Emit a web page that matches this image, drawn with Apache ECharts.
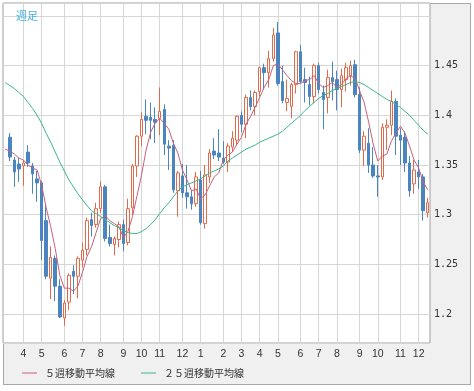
<!DOCTYPE html>
<html><head><meta charset="utf-8">
<script src="https://cdn.jsdelivr.net/npm/echarts@6/dist/echarts.min.js"></script>
<style>
html,body{margin:0;padding:0;background:#fff;}
#frame{position:absolute;left:3px;top:3px;width:466px;height:380px;border:1px solid #a8a8a8;background:#f0f0f0;}
#chart{position:absolute;left:0;top:0;width:474px;height:391px;}
</style></head><body>
<div id="frame"></div><div id="chart"></div>
<script>
const weeks = [
'2010/03/08','2010/03/15','2010/03/22','2010/03/29','2010/04/05','2010/04/12','2010/04/19','2010/04/26',
'2010/05/03','2010/05/10','2010/05/17','2010/05/24','2010/05/31','2010/06/07','2010/06/14','2010/06/21','2010/06/28',
'2010/07/05','2010/07/12','2010/07/19','2010/07/26','2010/08/02','2010/08/09','2010/08/16','2010/08/23','2010/08/30',
'2010/09/06','2010/09/13','2010/09/20','2010/09/27','2010/10/04','2010/10/11','2010/10/18','2010/10/25',
'2010/11/01','2010/11/08','2010/11/15','2010/11/22','2010/11/29','2010/12/06','2010/12/13','2010/12/20','2010/12/27',
'2011/01/03','2011/01/10','2011/01/17','2011/01/24','2011/01/31','2011/02/07','2011/02/14','2011/02/21','2011/02/28',
'2011/03/07','2011/03/14','2011/03/21','2011/03/28','2011/04/04','2011/04/11','2011/04/18','2011/04/25',
'2011/05/02','2011/05/09','2011/05/16','2011/05/23','2011/05/30','2011/06/06','2011/06/13','2011/06/20','2011/06/27',
'2011/07/04','2011/07/11','2011/07/18','2011/07/25','2011/08/01','2011/08/08','2011/08/15','2011/08/22','2011/08/29',
'2011/09/05','2011/09/12','2011/09/19','2011/09/26','2011/10/03','2011/10/10','2011/10/17','2011/10/24','2011/10/31',
'2011/11/07','2011/11/14','2011/11/21','2011/11/28','2011/12/05','2011/12/12','2011/12/19'
];
const openVals = [null,
1.378,1.355,1.351,1.349,1.363,1.349,1.336,1.332,1.294,1.236,
1.256,1.228,1.196,1.212,1.243,1.238,1.254,1.265,1.295,1.290,
1.306,1.328,1.277,1.270,1.275,1.290,1.272,1.307,1.349,1.379,
1.399,1.398,1.396,1.397,1.406,1.369,1.370,1.324,1.339,1.322,
1.318,1.311,1.335,1.291,1.338,1.364,1.362,1.357,1.353,1.368,
1.375,1.400,1.391,1.418,1.409,1.424,1.448,1.443,1.457,1.483,
1.434,1.413,1.409,1.431,1.464,1.436,1.431,1.419,1.450,1.423,
1.418,1.438,1.436,1.426,1.436,1.440,1.451,1.421,1.365,1.372,
1.350,1.339,1.338,1.388,1.390,1.414,1.380,1.378,1.352,1.331,
1.343,1.338,1.302];
const closeVals = [null,
1.358,1.343,1.346,1.352,1.352,1.341,1.332,1.274,1.238,1.257,
1.228,1.197,1.211,1.239,1.238,1.256,1.264,1.294,1.289,1.306,
1.328,1.276,1.271,1.276,1.290,1.271,1.306,1.349,1.379,1.396,
1.395,1.395,1.393,1.404,1.371,1.367,1.325,1.342,1.322,1.318,
1.311,1.338,1.292,1.340,1.362,1.360,1.358,1.353,1.369,1.377,
1.399,1.391,1.418,1.409,1.423,1.448,1.443,1.457,1.481,1.432,
1.415,1.417,1.431,1.464,1.434,1.433,1.419,1.450,1.426,1.416,
1.438,1.434,1.426,1.440,1.448,1.450,1.421,1.365,1.379,1.350,
1.339,1.338,1.388,1.390,1.414,1.379,1.375,1.352,1.324,1.345,
1.338,1.304,1.312];
const lowVals = [null,
1.354,1.328,1.333,1.329,1.348,1.321,1.313,1.254,1.235,1.215,
1.213,1.196,1.188,1.204,1.220,1.216,1.247,1.259,1.278,1.287,
1.302,1.273,1.268,1.259,1.267,1.263,1.269,1.300,1.338,1.369,
1.381,1.376,1.372,1.380,1.360,1.345,1.322,1.298,1.317,1.306,
1.305,1.308,1.290,1.286,1.332,1.356,1.354,1.351,1.343,1.363,
1.370,1.383,1.377,1.405,1.400,1.419,1.426,1.428,1.454,1.430,
1.412,1.404,1.397,1.422,1.432,1.413,1.410,1.412,1.422,1.386,
1.402,1.415,1.405,1.408,1.424,1.430,1.418,1.362,1.349,1.342,
1.337,1.318,1.335,1.365,1.380,1.360,1.350,1.343,1.318,1.321,
1.326,1.294,1.297];
const highVals = [null,
1.382,1.358,1.357,1.355,1.370,1.352,1.344,1.334,1.311,1.268,
1.259,1.235,1.214,1.241,1.249,1.258,1.272,1.297,1.302,1.312,
1.334,1.330,1.290,1.278,1.293,1.295,1.316,1.351,1.380,1.403,
1.416,1.413,1.408,1.428,1.411,1.375,1.375,1.344,1.351,1.350,
1.325,1.343,1.344,1.350,1.366,1.377,1.386,1.374,1.372,1.384,
1.400,1.404,1.421,1.425,1.425,1.449,1.452,1.465,1.488,1.494,
1.450,1.436,1.433,1.465,1.471,1.448,1.439,1.452,1.453,1.430,
1.446,1.454,1.445,1.447,1.453,1.455,1.456,1.428,1.384,1.387,
1.368,1.350,1.392,1.396,1.425,1.417,1.387,1.384,1.359,1.355,
1.355,1.341,1.317];
const ma5 = [1.366,
1.364,1.361,1.357,1.355,1.350,1.347,1.345,1.330,1.307,1.288,
1.266,1.239,1.226,1.226,1.223,1.228,1.242,1.258,1.268,1.282,
1.296,1.299,1.294,1.291,1.288,1.277,1.283,1.298,1.319,1.340,
1.365,1.383,1.392,1.397,1.392,1.386,1.372,1.362,1.345,1.335,
1.324,1.326,1.316,1.320,1.329,1.338,1.342,1.355,1.360,1.363,
1.371,1.378,1.391,1.399,1.408,1.418,1.428,1.436,1.450,1.452,
1.446,1.440,1.435,1.432,1.432,1.435,1.436,1.440,1.432,1.428,
1.430,1.433,1.428,1.431,1.437,1.440,1.437,1.425,1.413,1.393,
1.371,1.354,1.359,1.361,1.374,1.382,1.389,1.382,1.369,1.355,
1.347,1.333,1.325];
const ma25 = [1.433,
1.430,1.427,1.423,1.419,1.413,1.407,1.400,1.392,1.382,1.373,
1.363,1.353,1.344,1.335,1.328,1.321,1.315,1.309,1.304,1.301,
1.298,1.295,1.292,1.289,1.287,1.284,1.282,1.281,1.281,1.283,
1.286,1.290,1.295,1.301,1.307,1.312,1.318,1.324,1.328,1.330,
1.332,1.334,1.336,1.339,1.342,1.344,1.346,1.349,1.354,1.357,
1.360,1.363,1.366,1.368,1.370,1.373,1.375,1.377,1.379,1.381,
1.384,1.388,1.392,1.396,1.400,1.405,1.409,1.413,1.417,1.420,
1.422,1.425,1.427,1.429,1.431,1.433,1.434,1.433,1.431,1.428,
1.425,1.422,1.419,1.416,1.414,1.411,1.408,1.404,1.400,1.395,
1.390,1.385,1.381];
const yTickLabels = [1.2, 1.25, 1.3, 1.35, 1.4, 1.45];
const legendNames = ['５週移動平均線', '２５週移動平均線'];

const candleData = weeks.map((w, i) => openVals[i] == null ? ['-','-','-','-'] :
  [openVals[i], closeVals[i], lowVals[i], highVals[i]]);
const isMonthStart = (idx) => idx > 0 && weeks[idx].slice(5,7) !== weeks[idx-1].slice(5,7);

const chart = echarts.init(document.getElementById('chart'), null, {renderer:'canvas'});
chart.setOption({
  animation: false,
  backgroundColor: 'transparent',
  title: {text: '週足', left: 16, top: 10, padding: 0,
    textStyle: {fontSize: 11, fontWeight: 'normal', color: '#45b0e0', fontFamily: 'Noto Sans CJK JP'}},
  legend: {data: legendNames, left: 17, top: 363, icon: 'rect', itemWidth: 15, itemHeight: 1, itemGap: 26,
    textStyle: {fontSize: 10, color: '#333', fontFamily: 'Noto Sans CJK JP', padding: [0,0,0,3]}},
  grid: {left: 3, top: 3, width: 427, height: 340, show: true, backgroundColor: '#fff',
    borderColor: '#a0a0a0', borderWidth: 1},
  xAxis: {type: 'category', data: weeks, boundaryGap: true,
    axisLine: {show: false}, axisTick: {show: false},
    axisLabel: {interval: isMonthStart, formatter: v => String(+v.slice(5,7)),
      color: '#333', fontSize: 10.5, fontFamily: 'Liberation Sans', margin: 6},
    splitLine: {show: true, interval: isMonthStart, alignWithLabel: true,
      lineStyle: {color: '#d6d6d6', width: 1}}},
  yAxis: {type: 'value', position: 'right', min: 1.1708, max: 1.5131,
    splitNumber: 7, minInterval: 0.05, maxInterval: 0.05,
    axisLine: {show: false}, axisTick: {show: false},
    axisLabel: {showMinLabel: false, showMaxLabel: false, margin: 4,
      formatter: v => yTickLabels.some(t => Math.abs(t - v) < 1e-6) ? String(+v.toFixed(2)) : '',
      color: '#333', fontSize: 10, fontFamily: 'DejaVu Sans Mono'},
    splitLine: {lineStyle: {color: '#d6d6d6', width: 1}}},
  series: [
    {type: 'candlestick', data: candleData, barWidth: 3,
      itemStyle: {color: '#ffffff', color0: '#4a85c0', borderColor: '#e2694a', borderColor0: '#4a85c0', borderWidth: 1}},
    {type: 'line', name: legendNames[0], data: ma5, symbol: 'none', z: 3,
      lineStyle: {width: 1, color: '#c8607a'}, itemStyle: {color: '#c8607a'}},
    {type: 'line', name: legendNames[1], data: ma25, symbol: 'none', z: 3,
      lineStyle: {width: 1, color: '#3cb48c'}, itemStyle: {color: '#3cb48c'}}
  ]
});
</script>
</body></html>
